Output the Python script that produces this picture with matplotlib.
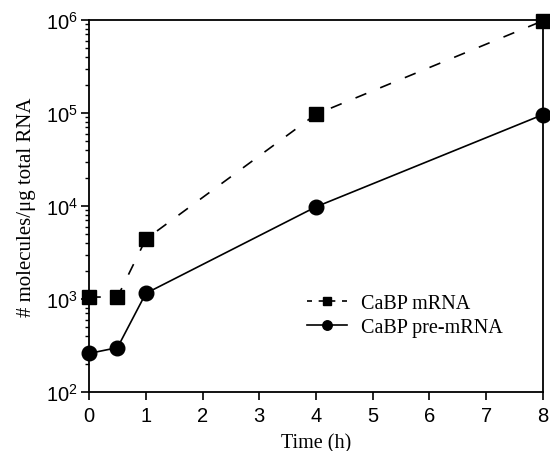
import numpy as np
import matplotlib.pyplot as plt

time_h = [0, 0.5, 1, 4, 8]
mrna = [1050, 1050, 4400, 97000, 980000]
pre_mrna = [260, 300, 1150, 9800, 96000]

xticks = [0, 1, 2, 3, 4, 5, 6, 7, 8]

plt.rcParams['font.family'] = ['Liberation Sans', 'DejaVu Sans']

fig = plt.figure(figsize=(5.5, 4.52), dpi=100)
ax = fig.add_axes([0.162, 0.1305, 0.825, 0.823])

ax.plot(time_h, mrna, color='black', linestyle=(0, (7, 9)), linewidth=1.2,
        marker='s', markersize=9.5, label='CaBP mRNA')
ax.plot(time_h, pre_mrna, color='black', linestyle='-', linewidth=1.2,
        marker='o', markersize=10.5, label='CaBP pre-mRNA')

ax.set_yscale('log')
ax.set_ylim(1e2, 1e6)
ax.set_xlim(0, 8)
ax.set_xticks(xticks)
ax.tick_params(which='major', direction='out', length=6, width=1.2, labelsize=14.5, pad=2)
ax.tick_params(axis='x', which='major', pad=4)
ax.tick_params(which='minor', direction='out', length=3, width=1)
ax.tick_params(axis='x', which='minor', bottom=False)
for s in ax.spines.values():
    s.set_linewidth(1.3)
    s.set_clip_on(False)

serif = ['Liberation Serif', 'DejaVu Serif']
ax.set_xlabel('Time (h)', family=serif, fontsize=14.5, labelpad=6)
ax.set_ylabel('# molecules/\u03bcg total RNA', family=serif, fontsize=15, labelpad=7)

leg = ax.legend(loc='center left', bbox_to_anchor=(0.44, 0.205), frameon=False,
                prop={'family': serif, 'size': 14.5}, handlelength=2.0,
                handletextpad=0.7, labelspacing=0.25, markerscale=0.65)
leg.get_lines()[0].set_linestyle((0, (3, 4)))

for line in ax.lines:
    line.set_clip_on(False)

fig.savefig('out.png', dpi=100)
